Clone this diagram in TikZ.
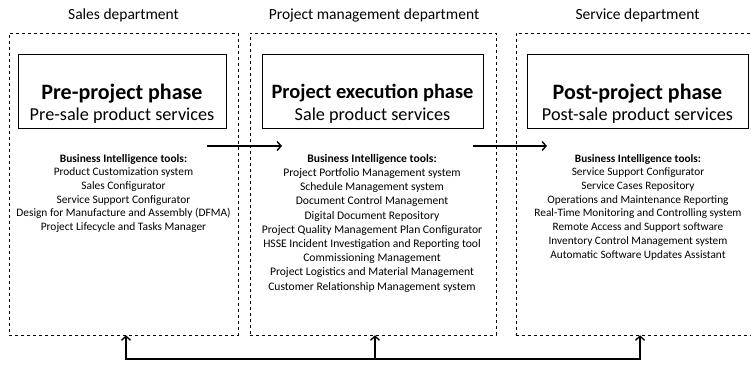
\documentclass[tikz,border=0pt]{standalone}
\usepackage{fontspec}
\setmainfont{Carlito}
\usetikzlibrary{arrows.meta}
\begin{document}
\begin{tikzpicture}[x=1pt,y=-1pt,
  deptbox/.style={draw, dashed, line width=0.6pt, inner sep=0pt},
  phasebox/.style={draw, line width=0.8pt, inner sep=0pt},
  depttitle/.style={font=\fontsize{15.5}{18}\selectfont, inner sep=0pt},
  phasetitle/.style={font=\fontsize{22}{26}\selectfont\bfseries, inner sep=0pt},
  phasesub/.style={font=\fontsize{18.2}{22}\selectfont, inner sep=0pt},
  tools/.style={align=center, inner sep=0pt, anchor=north},
  flow/.style={line width=1.4pt, -{Straight Barb[length=4pt,width=9pt]}},
  feed/.style={line width=1.4pt}
]
\useasboundingbox (0,0) rectangle (751,371);

% department (dashed) boxes
\node[deptbox, minimum width=229pt, minimum height=302pt] (d1) at (123.5,184) {};
\node[deptbox, minimum width=246pt, minimum height=302pt] (d2) at (373,184) {};
\node[deptbox, minimum width=236pt, minimum height=302pt] (d3) at (634,184) {};

% department labels
\node[depttitle] (l1) at (123.5,15) {Sales department};
\node[depttitle] (l2) at (374,15) {Project management department};
\node[depttitle] (l3) at (637.5,15) {Service department};

% phase boxes
\node[phasebox, minimum width=208pt, minimum height=74pt] (p1) at (122,91) {};
\node[phasebox, minimum width=221pt, minimum height=74pt] (p2) at (372.5,91) {};
\node[phasebox, minimum width=221pt, minimum height=74pt] (p3) at (637.5,91) {};

\node[phasetitle] (h1) at (p1.center |- 0,93.5) {Pre-project phase};
\node[phasesub]   (s1) at (p1.center |- 0,116) {Pre-sale product services};
\node[phasetitle, font=\fontsize{20.4}{24}\selectfont\bfseries] (h2) at (p2.center |- 0,93.5) {Project execution phase};
\node[phasesub]   (s2) at (p2.center |- 0,116) {Sale product services};
\node[phasetitle] (h3) at (p3.center |- 0,93.5) {Post-project phase};
\node[phasesub]   (s3) at (p3.center |- 0,116) {Post-sale product services};

% tools lists
\node[tools, font=\fontsize{11.4}{13.7}\selectfont] (t1) at (123.5,154) {%
\textbf{Business Intelligence tools:}\\
Product Customization system\\
Sales Configurator\\
Service Support Configurator\\
Design for Manufacture and Assembly (DFMA)\\
Project Lifecycle and Tasks Manager};

\node[tools, font=\fontsize{11.6}{14.2}\selectfont] (t2) at (372,154) {%
\textbf{Business Intelligence tools:}\\
Project Portfolio Management system\\
Schedule Management system\\
Document Control Management\\
Digital Document Repository\\
Project Quality Management Plan Configurator\\
HSSE Incident Investigation and Reporting tool\\
Commissioning Management\\
Project Logistics and Material Management\\
Customer Relationship Management system};

\node[tools, font=\fontsize{11.3}{13.7}\selectfont] (t3) at (638,154) {%
\textbf{Business Intelligence tools:}\\
Service Support Configurator\\
Service Cases Repository\\
Operations and Maintenance Reporting\\
Real-Time Monitoring and Controlling system\\
Remote Access and Support software\\
Inventory Control Management system\\
Automatic Software Updates Assistant};

% flow arrows between phases
\coordinate (a1s) at (207,146);
\coordinate (a1e) at (282,146);
\coordinate (a2s) at (473,146);
\coordinate (a2e) at (547,146);
\draw[flow] (a1s) -- (a1e);
\draw[flow] (a2s) -- (a2e);

% feedback arrows
\coordinate (f1) at (126,359);
\coordinate (f2) at (375,359);
\coordinate (f3) at (640,359);
\draw[feed] ([xshift=-0.7pt]f1) -- ([xshift=0.7pt]f3);
\draw[flow] (f1) -- (f1 |- d1.south);
\draw[flow] (f2) -- (f2 |- d2.south);
\draw[flow] (f3) -- (f3 |- d3.south);
\end{tikzpicture}
\end{document}
